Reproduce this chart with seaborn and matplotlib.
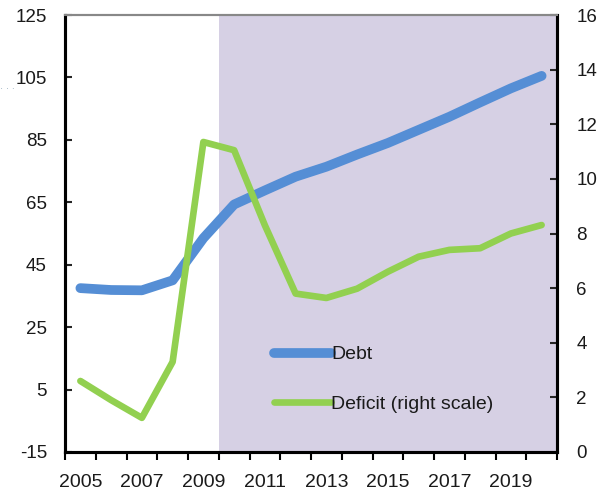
import numpy as np
import matplotlib
matplotlib.use("Agg")
import matplotlib.pyplot as plt
import pandas as pd
import seaborn as sns

# data
years = list(range(2005, 2021))
debt = [37.5, 36.9, 36.8, 40.0, 53.5, 64.3, 68.8, 73.2, 76.4, 80.3,
        84.0, 88.2, 92.4, 97.0, 101.5, 105.5]
deficit = [2.6, 1.9, 1.25, 3.3, 11.35, 11.05, 8.3, 5.8, 5.64, 5.98,
           6.6, 7.15, 7.4, 7.46, 8.0, 8.31]
shade_start = 2010
left_ticks = [-15, 5, 25, 45, 65, 85, 105, 125]
right_ticks = [0, 2, 4, 6, 8, 10, 12, 14, 16]
year_labels = [2005, 2007, 2009, 2011, 2013, 2015, 2017, 2019]

df = pd.DataFrame({"year": years, "Debt": debt, "Deficit (right scale)": deficit})

sns.set_style("white")
plt.rcParams["font.family"] = ["Liberation Sans", "DejaVu Sans"]
plt.rcParams["axes.unicode_minus"] = False

blue = "#558ed5"
green = "#92d050"
shade = "#d6d0e4"

fig = plt.figure(figsize=(6, 4.95), dpi=100)
ax = fig.add_axes([65 / 600, 1 - 452 / 495, (557 - 65) / 600, (452 - 15) / 495])
ax2 = ax.twinx()

ax.axvspan(shade_start - 0.5, years[-1] + 0.5, color=shade, lw=0, zorder=0)

sns.lineplot(data=df, x="year", y="Debt", ax=ax, color=blue, lw=7,
             solid_capstyle="round", label="Debt", legend=False)
sns.lineplot(data=df, x="year", y="Deficit (right scale)", ax=ax2, color=green,
             lw=4.8, label="Deficit (right scale)", legend=False)

ax.set_xlim(years[0] - 0.5, years[-1] + 0.5)
ax.set_ylim(left_ticks[0], left_ticks[-1])
ax2.set_ylim(right_ticks[0], right_ticks[-1])
ax.set_yticks(left_ticks)
ax2.set_yticks(right_ticks)
ax.set_xticks(year_labels)
ax.set_xticks(np.arange(years[0] - 0.5, years[-1] + 1), minor=True)
ax.set_xlabel("")
ax.set_ylabel("")
ax2.set_ylabel("")

tc = "#1a1a1a"
ax.tick_params(axis="x", which="major", length=0, pad=16, labelsize=14, labelcolor=tc)
ax.tick_params(axis="x", which="minor", length=6, width=1.5, direction="out",
               color="black", bottom=True)
ax.tick_params(axis="y", length=5, width=1.5, direction="in", pad=13,
               labelsize=13.5, labelcolor=tc, left=True)
ax2.tick_params(axis="y", length=5, width=1.5, direction="in", pad=14,
                labelsize=13.5, labelcolor=tc, right=True)

for a in (ax, ax2):
    for side in ("left", "right", "bottom"):
        a.spines[side].set_linewidth(2.2)
        a.spines[side].set_color("black")
    a.spines["top"].set_color("#888888")
    a.spines["top"].set_linewidth(1.5)

h1, l1 = ax.get_legend_handles_labels()
h2, l2 = ax2.get_legend_handles_labels()
leg = ax2.legend(h1 + h2, l1 + l2, loc="center left", bbox_to_anchor=(0.424, 0.166),
                 frameon=False, fontsize=14, handlelength=2.95, handletextpad=0.0,
                 labelspacing=1.65, borderpad=0, borderaxespad=0)
for t in leg.get_texts():
    t.set_color(tc)

fig.text(0.0, 1 - 92 / 495, "· · ·", color="#8fa8b8", fontsize=7)

fig.savefig("out.png", dpi=100)
